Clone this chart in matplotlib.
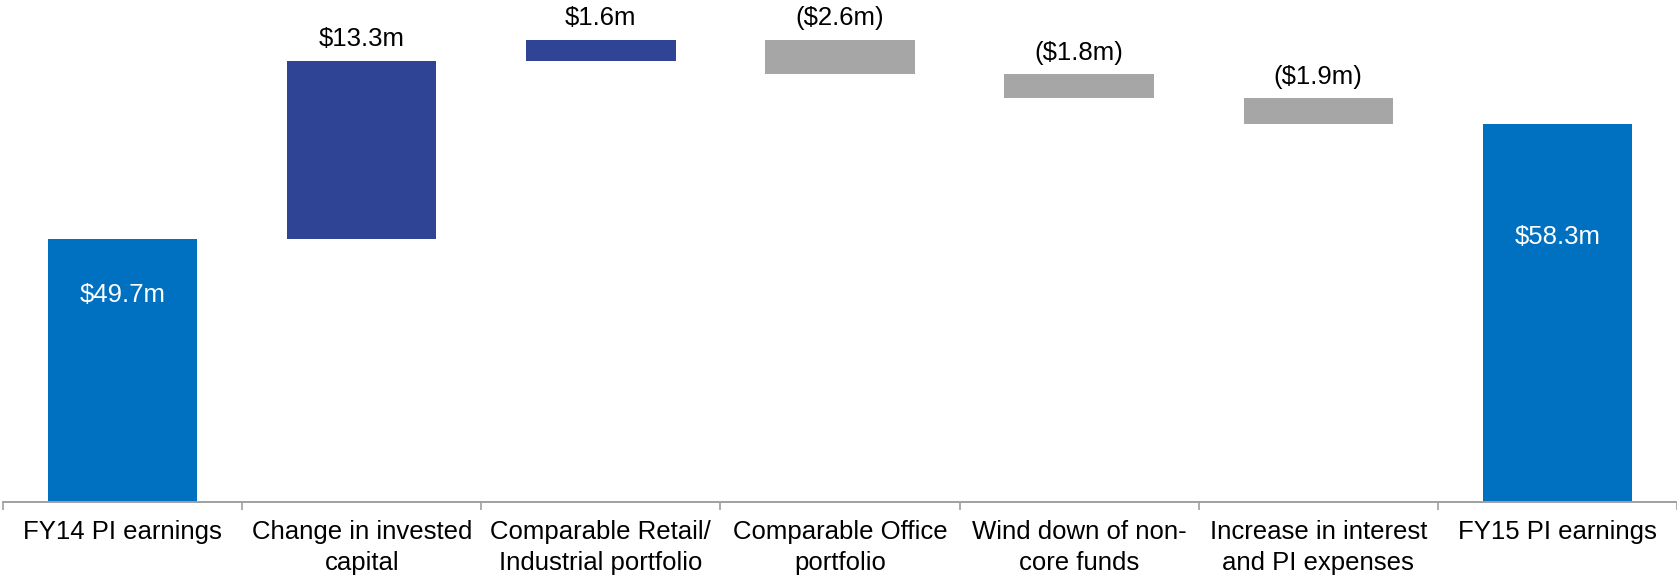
import matplotlib
matplotlib.use("Agg")
import matplotlib.pyplot as plt
from matplotlib.ticker import FixedLocator

plt.rcParams['font.family'] = ['Liberation Sans', 'DejaVu Sans']

# Waterfall data (A$ millions)
categories = [
    "FY14 PI earnings",
    "Change in invested\ncapital",
    "Comparable Retail/\nIndustrial portfolio",
    "Comparable Office\nportfolio",
    "Wind down of non-\ncore funds",
    "Increase in interest\nand PI expenses",
    "FY15 PI earnings",
]
opening_total = 49.7
movements = [13.3, 1.6, -2.6, -1.8, -1.9]
closing_total = 58.3
value_labels = ["$49.7m", "$13.3m", "$1.6m", "($2.6m)", "($1.8m)", "($1.9m)", "$58.3m"]

AXIS_FLOOR = 30.0
AXIS_CEIL = 67.57
INNER_LABEL_BASE = 41.3

TOTAL_COLOR = "#0070C0"
UP_COLOR = "#304496"
DOWN_COLOR = "#A6A6A6"
AXIS_COLOR = "#A0A0A0"

fig = plt.figure(figsize=(16.77, 5.80), dpi=100)
ax = fig.add_axes([3 / 1677, 78 / 580, 1674 / 1677, 502 / 580])

bar_w = 0.625
x = list(range(len(categories)))

# opening total
ax.bar(x[0], opening_total - AXIS_FLOOR, bottom=AXIS_FLOOR, width=bar_w,
       color=TOTAL_COLOR, linewidth=0)
ax.text(x[0], (INNER_LABEL_BASE + opening_total) / 2, value_labels[0],
        ha="center", va="center", color="white", fontsize=18.5)

# floating movement bars
running = opening_total
for i, delta in enumerate(movements, start=1):
    lo, hi = sorted([running, running + delta])
    color = UP_COLOR if delta > 0 else DOWN_COLOR
    ax.bar(x[i], hi - lo, bottom=lo, width=bar_w, color=color, linewidth=0)
    ax.annotate(value_labels[i], (x[i], hi), xytext=(0, 10.5), textcoords="offset points",
                ha="center", va="baseline", color="black", fontsize=18.5)
    running += delta

# closing total
ax.bar(x[6], closing_total - AXIS_FLOOR, bottom=AXIS_FLOOR, width=bar_w,
       color=TOTAL_COLOR, linewidth=0)
ax.text(x[6], (INNER_LABEL_BASE + closing_total) / 2, value_labels[6],
        ha="center", va="center", color="white", fontsize=18.5)

ax.set_xlim(-0.5, len(categories) - 0.5)
ax.set_ylim(AXIS_FLOOR, AXIS_CEIL)

for side in ("top", "right", "left"):
    ax.spines[side].set_visible(False)
ax.spines["bottom"].set_color(AXIS_COLOR)
ax.spines["bottom"].set_linewidth(1.4)
ax.set_yticks([])

ax.set_xticks(x)
ax.set_xticklabels(categories, fontsize=18.5, linespacing=1.37)
ax.tick_params(axis="x", which="major", length=0, pad=13)
ax.xaxis.set_minor_locator(FixedLocator([i - 0.5 for i in range(len(categories) + 1)]))
ax.tick_params(axis="x", which="minor", length=5.5, width=1.2, color=AXIS_COLOR)

fig.savefig("out.png", dpi=100)
